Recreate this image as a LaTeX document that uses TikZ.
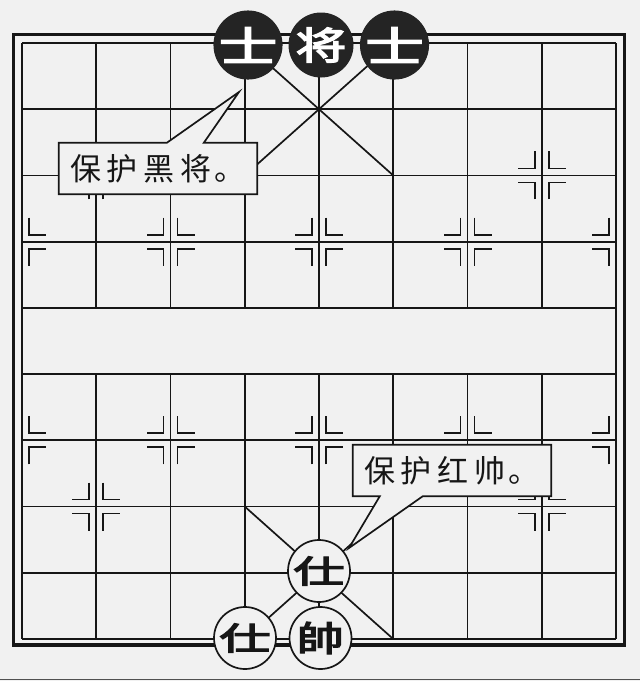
\documentclass[tikz,border=0pt]{standalone}
\usepackage{fontspec}
\usepackage{graphicx}
\newfontfamily\cjk{Noto Sans CJK SC}
\newfontfamily\cjkb{Noto Sans CJK SC}[FakeBold=3.5]
\usetikzlibrary{calc}
\definecolor{bgc}{RGB}{241,241,241}
\definecolor{ink}{RGB}{22,22,22}
\definecolor{blk}{RGB}{36,36,36}
\newcommand{\pz}[4]{\scalebox{#1}[#2]{\cjkb\fontsize{#3}{#3}\selectfont #4}}
\newcommand{\crn}[4]{\draw[markline] ({#1+#3*7},{#2+#4*24}) -- ({#1+#3*7},{#2+#4*7}) -- ({#1+#3*24},{#2+#4*7});}
\newcommand{\fullmk}[2]{\crn{#1}{#2}{1}{1}\crn{#1}{#2}{-1}{1}\crn{#1}{#2}{1}{-1}\crn{#1}{#2}{-1}{-1}}
\newcommand{\leftmk}[2]{\crn{#1}{#2}{1}{1}\crn{#1}{#2}{1}{-1}}
\newcommand{\rightmk}[2]{\crn{#1}{#2}{-1}{1}\crn{#1}{#2}{-1}{-1}}
\begin{document}
\begin{tikzpicture}[x=1pt,y=-1pt,
  gridline/.style={ink, line width=1.7pt},
  markline/.style={ink, line width=1.7pt},
  redpiece/.style={circle, draw=ink, line width=1.7pt, fill=bgc, minimum size=62pt, inner sep=0pt, text=ink},
  blackpiece/.style={circle, draw=blk, line width=1pt, fill=blk, minimum size=64pt, inner sep=0pt, text=white},
  calloutbox/.style={fill=bgc, draw=none, minimum width=198pt, minimum height=51pt, inner sep=0pt, font=\cjk\fontsize{31}{31}\selectfont, text=ink},
  outline/.style={draw=ink, line width=1.7pt, line join=miter}]
\fill[bgc] (0,0) rectangle (640,681);
\useasboundingbox (0,0) rectangle (640,681);
\draw[ink!75, line width=1.5pt] (0,679.5) -- (640,679.5);
% outer border
\draw[ink, line width=3.3pt] (13.7,34.3) rectangle (624.3,645);
% grid
\foreach \j in {0,...,9} \draw[gridline] (22,{43+66.22*\j}) -- (616,{43+66.22*\j});
\draw[gridline] (22,43) -- (22,639);
\draw[gridline] (616,43) -- (616,639);
\foreach \i in {1,...,7} {
  \draw[gridline] ({22+74.25*\i},43) -- ({22+74.25*\i},307.9);
  \draw[gridline] ({22+74.25*\i},374.1) -- ({22+74.25*\i},639);
}
% palaces
\draw[gridline] (244.75,43) -- (393.25,175.44);
\draw[gridline] (393.25,43) -- (244.75,175.44);
\draw[gridline] (244.75,506.54) -- (393.25,639);
\draw[gridline] (393.25,506.54) -- (244.75,639);
% markers
\fullmk{96.25}{175.44}\fullmk{541.75}{175.44}
\fullmk{96.25}{506.54}\fullmk{541.75}{506.54}
\leftmk{22}{241.66}\fullmk{170.5}{241.66}\fullmk{319}{241.66}\fullmk{467.5}{241.66}\rightmk{616}{241.66}
\leftmk{22}{440.32}\fullmk{170.5}{440.32}\fullmk{319}{440.32}\fullmk{467.5}{440.32}\rightmk{616}{440.32}
% black pieces
\node[blackpiece] (bs1) at (248,45) {\pz{1.5}{1.05}{39}{士}};
\node[blackpiece] (bj) at (321,45) {\pz{1.3}{0.97}{39}{将}};
\node[blackpiece] (bs2) at (394.5,45) {\pz{1.5}{1.05}{39}{士}};
% red pieces
\node[redpiece] (rs1) at (319,571) {\pz{1.42}{0.88}{36}{仕}};
\node[redpiece] (rs2) at (245,638) {\pz{1.42}{0.88}{36}{仕}};
\node[redpiece] (rk) at (320.5,638) {\pz{1.3}{0.97}{36}{帥}};
% callout 1
\node[calloutbox] (c1) at (158,168.5) {保\hspace{6pt}护\hspace{6pt}黑\hspace{6pt}将\hspace{3pt}。};
\coordinate (t1) at (239,92);
\fill[bgc] ($(c1.north west)+(108,0)$) -- (t1) -- ($(c1.north west)+(145,0)$) -- cycle;
\draw[outline] ($(c1.north west)+(108,0)$) -- (t1) -- ($(c1.north west)+(145,0)$) -- (c1.north east) -- (c1.south east) -- (c1.south west) -- (c1.north west) -- cycle;
% callout 2
\node[calloutbox] (c2) at (452,470.5) {保\hspace{6pt}护\hspace{6pt}红\hspace{6pt}帅\hspace{3pt}。};
\coordinate (t2) at (349,548);
\fill[bgc] ($(c2.south west)+(27,0)$) -- (t2) -- ($(c2.south west)+(70,0)$) -- cycle;
\draw[outline] (c2.south west) -- (c2.north west) -- (c2.north east) -- (c2.south east) -- ($(c2.south west)+(70,0)$) -- (t2) -- ($(c2.south west)+(27,0)$) -- cycle;
\end{tikzpicture}
\end{document}
